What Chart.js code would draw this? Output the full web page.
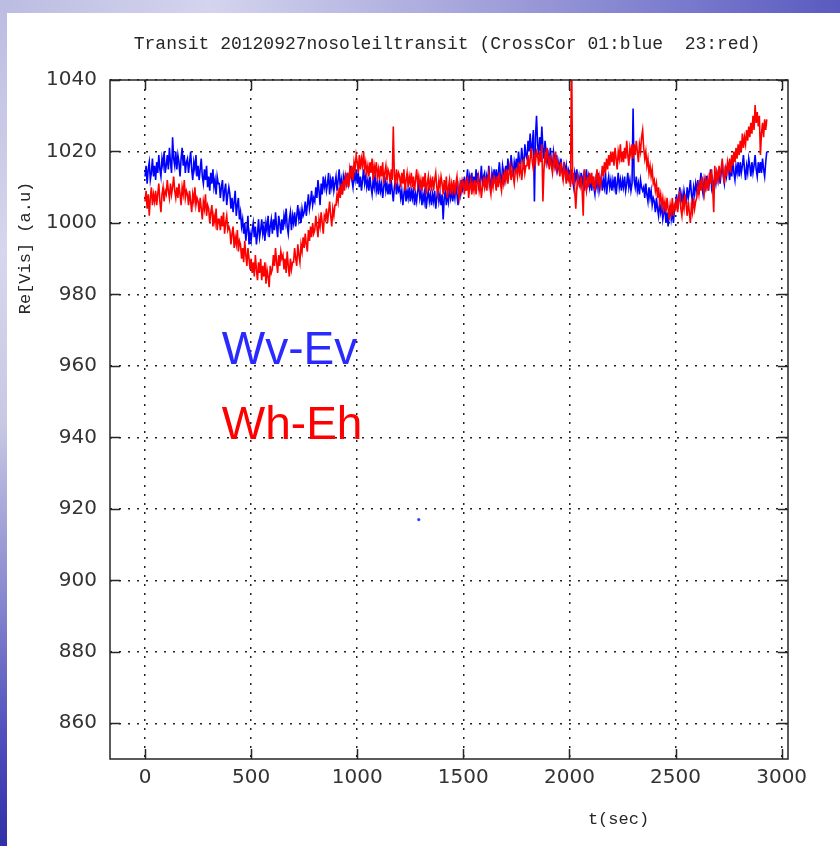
<!DOCTYPE html>
<html>
<head>
<meta charset="utf-8">
<script src="https://cdn.jsdelivr.net/npm/chart.js@4/dist/chart.umd.min.js"></script>
<style>
  html, body { margin: 0; padding: 0; background: #ffffff; }
  #page { position: relative; width: 840px; height: 846px; overflow: hidden; background: #ffffff; }
  #topband { position: absolute; left: 0; top: 0; width: 840px; height: 13px;
    background: linear-gradient(to right, #bcbce2 0%, #d4d4ee 25%, #a6a6dc 55%, #7c7cce 80%, #5a5ac0 100%); }
  #leftband { position: absolute; left: 0; top: 0; width: 7px; height: 846px;
    background: linear-gradient(to bottom, #bcbce2 0%, #d6d6ec 30%, #c8c8e4 50%, #8a8ad0 70%, #4c4cbc 88%, #3030a8 100%); }
  #chart { position: absolute; left: 0; top: 0; }
</style>
</head>
<body>
<div id="page">
  <div id="topband"></div>
  <div id="leftband"></div>
  <canvas id="chart" width="840" height="846"></canvas>
</div>
<script>
// sampling interval of both correlation series (seconds)
const T_STEP = 5;

// CrossCor 01 (Wv-Ev), one value every 5 s from t = 0, ten values per line (50 s)
const blueVis = [
  1013, 1016, 1011, 1015, 1017, 1012, 1014, 1018, 1013, 1016,
  1012, 1017, 1014, 1019, 1015, 1013, 1018, 1016, 1020, 1014,
  1016, 1019, 1015, 1021, 1017, 1014, 1024, 1018, 1016, 1020,
  1015, 1019, 1017, 1013, 1018, 1021, 1016, 1019, 1014, 1017,
  1018, 1014, 1017, 1020, 1015, 1012, 1017, 1015, 1019, 1013,
  1016, 1012, 1015, 1018, 1013, 1011, 1015, 1012, 1016, 1010,
  1013, 1009, 1014, 1011, 1015, 1010, 1012, 1008, 1013, 1011,
  1011, 1007, 1010, 1012, 1006, 1009, 1011, 1005, 1008, 1010,
  1008, 1004, 1007, 1003, 1006, 1009, 1002, 1005, 1007, 1001,
  1003, 999, 1001, 997, 1000, 995, 998, 1002, 994, 997,
  995, 998, 1000, 996, 999, 994, 997, 1001, 996, 998,
  1001, 997, 999, 995, 1000, 998, 1002, 996, 999, 1001,
  997, 1001, 998, 1003, 999, 996, 1002, 1000, 997, 1001,
  998, 1002, 1000, 1004, 999, 997, 1001, 1003, 998, 1002,
  1000, 1003, 999, 1002, 1005, 1001, 1003, 1000, 1004, 1002,
  1003, 1006, 1002, 1005, 1008, 1004, 1006, 1009, 1005, 1007,
  1006, 1010, 1007, 1012, 1009, 1005, 1011, 1008, 1013, 1010,
  1012, 1009, 1011, 1014, 1008, 1012, 1010, 1013, 1009, 1011,
  1013, 1009, 1012, 1015, 1010, 1012, 1008, 1013, 1011, 1014,
  1010, 1014, 1011, 1013, 1016, 1012, 1010, 1014, 1012, 1015,
  1011, 1014, 1010, 1013, 1009, 1012, 1015, 1011, 1013, 1010,
  1012, 1009, 1013, 1010, 1008, 1012, 1010, 1014, 1009, 1011,
  1008, 1012, 1009, 1011, 1007, 1010, 1013, 1009, 1011, 1008,
  1011, 1008, 1012, 1009, 1006, 1010, 1012, 1008, 1011, 1009,
  1010, 1007, 1009, 1005, 1008, 1011, 1006, 1009, 1007, 1010,
  1006, 1009, 1007, 1010, 1005, 1008, 1006, 1009, 1011, 1007,
  1009, 1005, 1008, 1006, 1010, 1004, 1007, 1009, 1006, 1008,
  1005, 1008, 1006, 1009, 1004, 1007, 1010, 1006, 1008, 1005,
  1008, 1001, 1007, 1009, 1005, 1008, 1006, 1010, 1007, 1009,
  1006, 1009, 1007, 1011, 1008, 1005, 1010, 1008, 1012, 1009,
  1010, 1013, 1009, 1012, 1015, 1010, 1013, 1011, 1014, 1010,
  1013, 1010, 1015, 1011, 1014, 1009, 1012, 1016, 1011, 1013,
  1014, 1010, 1013, 1011, 1016, 1012, 1009, 1014, 1012, 1015,
  1011, 1015, 1012, 1014, 1017, 1013, 1011, 1016, 1014, 1012,
  1016, 1013, 1018, 1015, 1014, 1019, 1016, 1013, 1017, 1015,
  1018, 1015, 1020, 1017, 1016, 1021, 1018, 1015, 1022, 1019,
  1018, 1023, 1020, 1025, 1019, 1022, 1026, 1006, 1024, 1030,
  1022, 1019, 1024, 1020, 1027, 1021, 1018, 1023, 1020, 1017,
  1019, 1016, 1021, 1017, 1015, 1020, 1018, 1016, 1019, 1015,
  1017, 1014, 1018, 1015, 1013, 1017, 1014, 1016, 1012, 1015,
  1014, 1011, 1015, 1012, 1010, 1014, 1012, 1015, 1011, 1013,
  1010, 1014, 1011, 1013, 1009, 1012, 1015, 1011, 1013, 1010,
  1012, 1009, 1013, 1010, 1008, 1012, 1010, 1014, 1009, 1011,
  1013, 1009, 1012, 1010, 1014, 1008, 1011, 1013, 1010, 1012,
  1009, 1012, 1010, 1013, 1008, 1011, 1014, 1010, 1012, 1009,
  1012, 1010, 1013, 1009, 1011, 1014, 1010, 1012, 1009, 1011,
  1032, 1012, 1010, 1013, 1009, 1011, 1008, 1012, 1010, 1009,
  1010, 1007, 1011, 1008, 1006, 1010, 1007, 1009, 1005, 1007,
  1006, 1003, 1007, 1004, 1002, 1006, 1003, 1005, 1001, 1003,
  1004, 1000, 1003, 999, 1002, 1005, 1001, 1003, 1000, 1004,
  1005, 1008, 1004, 1007, 1010, 1006, 1008, 1005, 1009, 1007,
  1006, 1010, 1007, 1009, 1012, 1008, 1006, 1010, 1008, 1011,
  1009, 1012, 1008, 1011, 1014, 1010, 1008, 1012, 1010, 1013,
  1013, 1009, 1012, 1015, 1010, 1012, 1009, 1013, 1011, 1014,
  1012, 1015, 1011, 1014, 1017, 1013, 1011, 1015, 1013, 1016,
  1015, 1012, 1016, 1013, 1018, 1014, 1012, 1016, 1014, 1017,
  1013, 1017, 1014, 1016, 1019, 1015, 1012, 1016, 1014, 1018,
  1016, 1013, 1017, 1014, 1016, 1019, 1015, 1013, 1017, 1014,
  1017, 1014, 1018, 1015, 1013, 1017, 1020
];

// CrossCor 23 (Wh-Eh), same sampling
const redVis = [
  1006, 1009, 1004, 1008, 1002, 1007, 1010, 1005, 1008, 1006,
  1009, 1005, 1008, 1011, 1006, 1003, 1008, 1010, 1006, 1009,
  1008, 1012, 1009, 1007, 1011, 1008, 1010, 1013, 1009, 1007,
  1010, 1007, 1011, 1008, 1005, 1010, 1008, 1012, 1007, 1009,
  1008, 1005, 1009, 1006, 1003, 1008, 1006, 1010, 1005, 1007,
  1006, 1003, 1007, 1004, 1001, 1006, 1004, 1008, 1002, 1005,
  1004, 1000, 1003, 1005, 999, 1002, 1000, 1004, 998, 1001,
  1001, 998, 1002, 999, 1003, 997, 1000, 1002, 998, 999,
  998, 994, 997, 999, 993, 996, 994, 998, 992, 995,
  994, 990, 993, 989, 995, 991, 988, 993, 990, 987,
  990, 986, 989, 985, 991, 987, 984, 989, 986, 990,
  984, 988, 985, 989, 983, 987, 985, 982, 988, 986,
  987, 991, 988, 993, 989, 986, 991, 988, 992, 990,
  991, 987, 990, 986, 992, 988, 985, 990, 987, 989,
  989, 993, 990, 988, 994, 991, 989, 994, 992, 996,
  993, 997, 994, 992, 998, 995, 999, 996, 1000, 997,
  998, 1002, 999, 996, 1001, 999, 1003, 1000, 997, 1002,
  1001, 1004, 1000, 1003, 1006, 1002, 999, 1004, 1002, 1005,
  1005, 1008, 1006, 1010, 1007, 1011, 1008, 1012, 1009, 1013,
  1011, 1014, 1010, 1015, 1013, 1016, 1012, 1017, 1015, 1019,
  1017, 1014, 1019, 1015, 1018, 1016, 1020, 1015, 1017, 1014,
  1016, 1013, 1017, 1014, 1018, 1012, 1016, 1014, 1017, 1013,
  1015, 1012, 1016, 1013, 1017, 1011, 1014, 1016, 1012, 1015,
  1014, 1011, 1015, 1012, 1027, 1013, 1011, 1015, 1012, 1014,
  1013, 1010, 1014, 1011, 1015, 1009, 1012, 1014, 1010, 1013,
  1011, 1014, 1010, 1013, 1009, 1012, 1015, 1011, 1013, 1010,
  1012, 1009, 1013, 1010, 1014, 1008, 1011, 1013, 1009, 1012,
  1010, 1013, 1009, 1012, 1014, 1010, 1008, 1012, 1010, 1013,
  1011, 1008, 1012, 1009, 1013, 1007, 1010, 1012, 1008, 1011,
  1009, 1012, 1008, 1011, 1013, 1009, 1007, 1011, 1009, 1012,
  1011, 1008, 1012, 1009, 1013, 1007, 1010, 1012, 1008, 1011,
  1009, 1012, 1008, 1011, 1013, 1009, 1011, 1007, 1010, 1012,
  1010, 1013, 1009, 1012, 1014, 1010, 1008, 1012, 1010, 1013,
  1012, 1009, 1013, 1010, 1014, 1011, 1009, 1013, 1011, 1014,
  1012, 1015, 1011, 1014, 1016, 1012, 1015, 1013, 1011, 1015,
  1015, 1013, 1017, 1014, 1016, 1012, 1015, 1018, 1014, 1016,
  1016, 1019, 1015, 1018, 1021, 1017, 1015, 1019, 1017, 1020,
  1019, 1016, 1020, 1017, 1022, 1006, 1015, 1019, 1017, 1021,
  1018, 1015, 1019, 1016, 1014, 1018, 1016, 1020, 1015, 1017,
  1016, 1013, 1017, 1014, 1012, 1016, 1014, 1011, 1015, 1012,
  1013, 1010, 1050, 1011, 1014, 1009, 1004, 1010, 1013, 1011,
  1010, 1013, 1009, 1002, 1015, 1011, 1009, 1013, 1010, 1014,
  1011, 1014, 1010, 1013, 1009, 1012, 1015, 1011, 1013, 1010,
  1012, 1016, 1013, 1017, 1014, 1018, 1015, 1019, 1016, 1020,
  1017, 1020, 1016, 1021, 1018, 1015, 1020, 1018, 1022, 1017,
  1020, 1017, 1021, 1018, 1023, 1019, 1016, 1021, 1019, 1022,
  1018, 1022, 1019, 1023, 1020, 1017, 1022, 1020, 1024, 1026,
  1021, 1018, 1020, 1016, 1018, 1014, 1016, 1013, 1015, 1011,
  1012, 1009, 1011, 1007, 1010, 1006, 1008, 1005, 1007, 1004,
  1006, 1003, 1007, 1004, 1001, 1005, 1003, 1007, 1002, 1005,
  1004, 1007, 1003, 1006, 1009, 1004, 1002, 1006, 1004, 1008,
  1005, 1002, 1006, 1003, 1000, 1005, 1003, 1007, 1004, 1006,
  1007, 1010, 1008, 1012, 1009, 1013, 1010, 1008, 1012, 1010,
  1012, 1009, 1014, 1011, 1015, 1010, 1003, 1016, 1011, 1014,
  1012, 1016, 1013, 1015, 1018, 1014, 1011, 1016, 1013, 1017,
  1015, 1018, 1014, 1019, 1016, 1020, 1017, 1021, 1018, 1022,
  1019, 1023, 1020, 1025, 1021, 1024, 1022, 1026, 1023, 1027,
  1024, 1028, 1025, 1030, 1026, 1033, 1028, 1031, 1027, 1030,
  1019, 1025, 1028, 1024, 1029, 1026, 1029
];

// stray single sample
const strayPoint = [{ x: 1290, y: 917 }];

const xTicks = [0, 500, 1000, 1500, 2000, 2500, 3000];
const yTicks = [860, 880, 900, 920, 940, 960, 980, 1000, 1020, 1040];

const toPoints = arr => arr.map((v, i) => ({ x: i * T_STEP, y: v }));

const MONO = '"Liberation Mono", "DejaVu Sans Mono", monospace';
const INK = '#262626';

// gnuplot-like frame: box, inward ticks and free-placed labels
const framePlugin = {
  id: 'gnuFrame',
  afterDraw(chart) {
    const { ctx, chartArea: a, scales: { x, y } } = chart;
    ctx.save();
    ctx.strokeStyle = INK;
    ctx.lineWidth = 1.5;
    ctx.strokeRect(a.left, a.top, a.right - a.left, a.bottom - a.top);

    const len = 10;
    ctx.beginPath();
    xTicks.forEach(t => {
      const px = Math.round(x.getPixelForValue(t)) + 0.5;
      ctx.moveTo(px, a.bottom); ctx.lineTo(px, a.bottom - len);
      ctx.moveTo(px, a.top); ctx.lineTo(px, a.top + len);
    });
    yTicks.forEach(v => {
      const py = Math.round(y.getPixelForValue(v)) + 0.5;
      ctx.moveTo(a.left, py); ctx.lineTo(a.left + len, py);
      ctx.moveTo(a.right, py); ctx.lineTo(a.right - len, py);
    });
    ctx.stroke();

    ctx.fillStyle = INK;
    ctx.textBaseline = 'middle';
    ctx.textAlign = 'center';
    ctx.font = '18px ' + MONO;
    ctx.fillText('Transit 20120927nosoleiltransit (CrossCor 01:blue  23:red)', (a.left + a.right) / 2 - 2, a.top - 36);

    ctx.font = '17px ' + MONO;
    ctx.fillText('t(sec)', a.left + (a.right - a.left) * 0.75, a.bottom + 60);

    ctx.save();
    ctx.translate(a.left - 85, a.top + 168);
    ctx.rotate(-Math.PI / 2);
    ctx.fillText('Re[Vis] (a.u)', 0, 0);
    ctx.restore();

    // names of the two baselines
    ctx.textAlign = 'left';
    ctx.textBaseline = 'alphabetic';
    ctx.font = '46px "Liberation Sans", Arial, sans-serif';
    ctx.fillStyle = '#2a2aff';
    ctx.fillText('Wv-Ev', x.getPixelForValue(362), y.getPixelForValue(960.5));
    ctx.fillStyle = '#ff0000';
    ctx.fillText('Wh-Eh', x.getPixelForValue(362), y.getPixelForValue(939.5));
    ctx.restore();
  }
};

const tickFont = { family: '"DejaVu Sans", sans-serif', size: 20 };

new Chart(document.getElementById('chart').getContext('2d'), {
  type: 'line',
  data: {
    datasets: [
      {
        label: 'Wh-Eh',
        data: toPoints(redVis),
        borderColor: '#ff0000',
        borderWidth: 1.6,
        pointRadius: 0,
        tension: 0
      },
      {
        label: 'Wv-Ev',
        data: toPoints(blueVis),
        borderColor: '#0000ff',
        borderWidth: 1.6,
        pointRadius: 0,
        tension: 0
      },
      {
        label: 'stray',
        data: strayPoint,
        showLine: false,
        pointRadius: 1.6,
        pointBorderWidth: 0,
        pointBackgroundColor: '#3b3bff'
      }
    ]
  },
  options: {
    responsive: false,
    animation: false,
    layout: { padding: { top: 80, right: 52, left: 0, bottom: 0 } },
    plugins: {
      legend: { display: false },
      tooltip: { enabled: false },
      title: { display: false }
    },
    scales: {
      x: {
        type: 'linear',
        min: -165,
        max: 3030,
        afterFit(scale) { scale.height = 87; },
        afterBuildTicks(scale) { scale.ticks = xTicks.map(v => ({ value: v })); },
        ticks: {
          maxRotation: 0,
          autoSkip: false,
          padding: 7,
          color: '#333333',
          font: tickFont,
          callback: v => String(v)
        },
        grid: { color: '#222222', lineWidth: 1.5, drawTicks: false },
        border: { display: false, dash: [2, 7] }
      },
      y: {
        type: 'linear',
        min: 850,
        max: 1040,
        afterFit(scale) { scale.width = 110; },
        afterBuildTicks(scale) { scale.ticks = yTicks.map(v => ({ value: v })); },
        ticks: {
          autoSkip: false,
          padding: 13,
          color: '#333333',
          font: tickFont,
          callback: v => String(v)
        },
        grid: { color: '#222222', lineWidth: 1.5, drawTicks: false },
        border: { display: false, dash: [2, 7] }
      }
    }
  },
  plugins: [framePlugin]
});
</script>
</body>
</html>
